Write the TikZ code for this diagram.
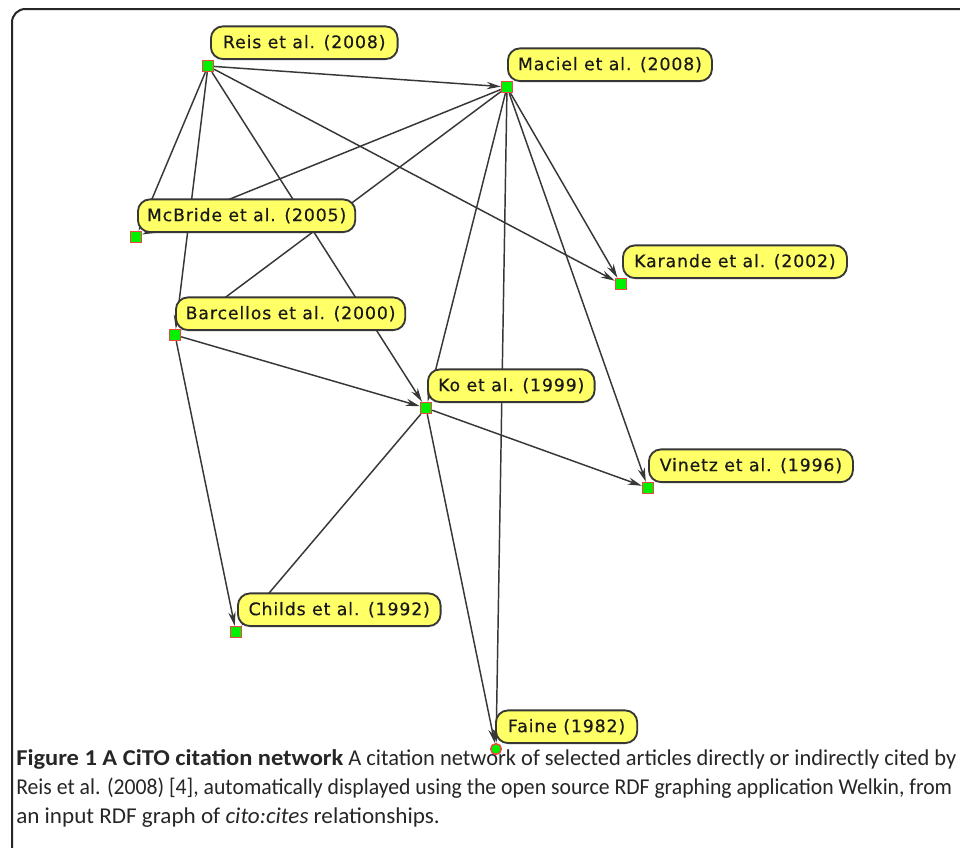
\documentclass[tikz,border=0pt]{standalone}
\usepackage{fontspec}
\setmainfont{Carlito}
\newfontfamily\labfont[LetterSpace=5,FakeBold=0.4]{DejaVu Sans}
\usetikzlibrary{arrows.meta}
\definecolor{labfill}{RGB}{255,255,102}
\definecolor{labborder}{RGB}{55,55,55}
\definecolor{labtext}{RGB}{25,25,25}
\definecolor{edgecol}{RGB}{55,55,55}
\definecolor{sqred}{RGB}{240,70,70}
\definecolor{sqgreen}{RGB}{0,240,0}
\begin{document}
\begin{tikzpicture}[x=0.75pt,y=-0.75pt,
  sq/.style={rectangle, draw=sqred, fill=sqgreen, line width=0.8pt, minimum size=8.5pt, inner sep=0pt},
  circ/.style={circle, draw=sqred, fill=sqgreen, line width=1.1pt, minimum size=8pt, inner sep=0pt},
  lab/.style={draw=labborder, fill=labfill, line width=1.4pt, rounded corners=9pt, minimum height=24.5pt, inner sep=0pt, font=\labfont\fontsize{13}{15}\selectfont, text=labtext, anchor=south west},
  citeedge/.style={draw=edgecol, line width=1.1pt, -{Stealth[length=10.5pt,width=5.5pt]}},
  captext/.style={anchor=base west, inner sep=0pt, font=\fontsize{17}{20}\selectfont, text=black!85}
]
\useasboundingbox (0,0) rectangle (960,847);
\clip (0,0) rectangle (960,847);
\fill[white] (0,0) rectangle (960,847);
\draw[line width=1.5pt, rounded corners=10pt, draw=black!85] (12,9) rectangle (990,880);

% article squares
\node[sq] (r) at (208,66) {};
\node[sq] (m) at (507,87) {};
\node[sq] (mc) at (136,237) {};
\node[sq] (k) at (621,284) {};
\node[sq] (b) at (175,335) {};
\node[sq] (ko) at (426,408) {};
\node[sq] (v) at (648,488) {};
\node[sq] (c) at (236,632) {};
\node[circ] (f) at (496,749) {};

% citation edges
\draw[citeedge] (r) -- (m);
\draw[citeedge] (r) -- (k);
\draw[citeedge] (r) -- (mc);
\draw[citeedge] (r) -- (b);
\draw[citeedge] (r) -- (ko);
\draw[citeedge] (m) -- (mc);
\draw[citeedge] (m) -- (b);
\draw[citeedge] (m) -- (k);
\draw[citeedge] (m) -- (ko);
\draw[citeedge] (m) -- (v);
\draw[citeedge] (m) -- (f);
\draw[citeedge] (b) -- (ko);
\draw[citeedge] (b) -- (c);
\draw[citeedge] (ko) -- (v);
\draw[citeedge] (ko) -- (c);
\draw[citeedge] (ko) -- (f);

% labels
\node[lab, minimum width=140pt] (rl) at ([shift={(2,-6)}]r.center) {Reis et al. (2008)};
\node[lab, minimum width=153pt] (ml) at ([shift={(0,-5)}]m.center) {Maciel et al. (2008)};
\node[lab, minimum width=163pt] (mcl) at ([shift={(1,-4)}]mc.center) {McBride et al. (2005)};
\node[lab, minimum width=172pt] (bl) at ([shift={(0,-4)}]b.center) {Barcellos et al. (2000)};
\node[lab, minimum width=125pt] (kol) at ([shift={(1,-5)}]ko.center) {Ko et al. (1999)};
\node[lab, minimum width=168pt] (kl) at ([shift={(1,-5)}]k.center) {Karande et al. (2002)};
\node[lab, minimum width=153pt] (vl) at ([shift={(0,-5)}]v.center) {Vinetz et al. (1996)};
\node[lab, minimum width=152pt] (cl) at ([shift={(1,-5)}]c.center) {Childs et al. (1992)};
\node[lab, minimum width=106pt] (fl) at ([shift={(-1,-5)}]f.center) {Faine (1982)};

% caption
\node[captext] (cap1) at (16,765) {\scalebox{1.08}[1]{\textbf{Figure 1 A CiTO citation network}}\scalebox{0.99}[1]{\ A citation network of selected articles directly or indirectly cited by}};
\node[captext] (cap2) at (16,794) {\scalebox{0.957}[1]{Reis et al. (2008) [4], automatically displayed using the open source RDF graphing application Welkin, from}};
\node[captext] (cap3) at (16,823) {\scalebox{1.02}[1]{an input RDF graph of \textit{cito:cites} relationships.}};
\end{tikzpicture}
\end{document}
